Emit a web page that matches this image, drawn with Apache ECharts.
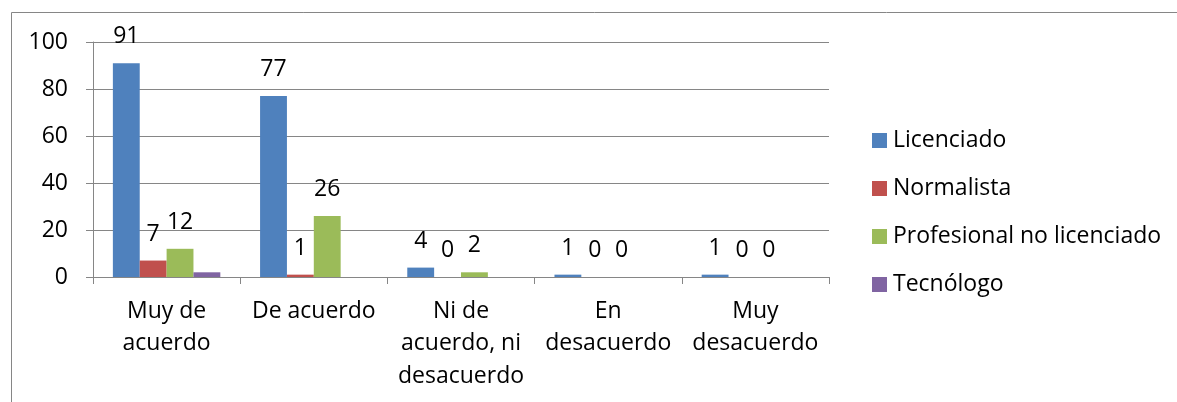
<!DOCTYPE html>
<html>
<head>
<meta charset="utf-8">
<script src="https://cdn.jsdelivr.net/npm/echarts@6/dist/echarts.min.js"></script>
<style>html,body{margin:0;padding:0;background:#fff}#c{width:1177px;height:402px}</style>
</head>
<body>
<div id="c"></div>
<script>
const categories = ["Muy de\nacuerdo", "De acuerdo", "Ni de\nacuerdo, ni\ndesacuerdo", "En\ndesacuerdo", "Muy\ndesacuerdo"];
const licenciado = [91, 77, 4, 1, 1];
const normalista = [7, 1, 0, 0, 0];
const profesional = [12, 26, 2, 0, 0];
const tecnologo = [2, 0, 0, 0, 0];
const seriesNames = ["Licenciado", "Normalista", "Profesional no licenciado", "Tecnólogo"];
const colors = ["#4F81BD", "#C0504D", "#9BBB59", "#8064A2"];
const yTicks = [0, 20, 40, 60, 80, 100];

const FONT = "'Open Sans', sans-serif";
const FS = 23;
const chart = echarts.init(document.getElementById('c'));
const lbl = {show: true, position: 'top', distance: 15, color: '#000', fontSize: FS, fontFamily: FONT};
function mk(name, data, color, showLabel) {
  return {
    name, type: 'bar', data, barGap: 0, barCategoryGap: '27%',
    itemStyle: {color},
    label: showLabel ? lbl : {show: false},
    emphasis: {disabled: true}
  };
}
chart.setOption({
  animation: false,
  color: colors,
  graphic: [{
    type: 'polyline', silent: true,
    shape: {points: [[11.5, 420], [11.5, 12.5], [1180, 12.5]]},
    style: {stroke: '#868686', lineWidth: 1, fill: null}
  }],
  grid: {left: 93, right: 348, top: 42, bottom: 125, containLabel: false},
  legend: {
    orient: 'vertical', left: 867, top: 124, itemGap: 25,
    itemWidth: 15, itemHeight: 15, icon: 'rect',
    textStyle: {fontSize: FS, fontFamily: FONT, color: '#000', padding: [0, 0, 0, 1]},
    data: seriesNames
  },
  xAxis: {
    type: 'category', data: categories,
    axisLine: {lineStyle: {color: '#868686'}},
    axisTick: {show: true, length: 7, lineStyle: {color: '#868686'}, alignWithLabel: false},
    axisLabel: {fontSize: FS, fontFamily: FONT, color: '#000', lineHeight: 32.5, margin: 18, interval: 0}
  },
  yAxis: {
    type: 'value', min: 0, max: 100, interval: 20,
    axisLine: {show: true, lineStyle: {color: '#868686'}},
    axisTick: {show: true, length: 7, lineStyle: {color: '#868686'}},
    splitLine: {lineStyle: {color: '#868686'}},
    axisLabel: {fontSize: FS, fontFamily: FONT, color: '#000', margin: 25,
      formatter: v => yTicks.includes(v) ? String(v) : ''}
  },
  series: [
    mk(seriesNames[0], licenciado, colors[0], true),
    mk(seriesNames[1], normalista, colors[1], true),
    mk(seriesNames[2], profesional, colors[2], true),
    mk(seriesNames[3], tecnologo, colors[3], false)
  ]
});
</script>
</body>
</html>
